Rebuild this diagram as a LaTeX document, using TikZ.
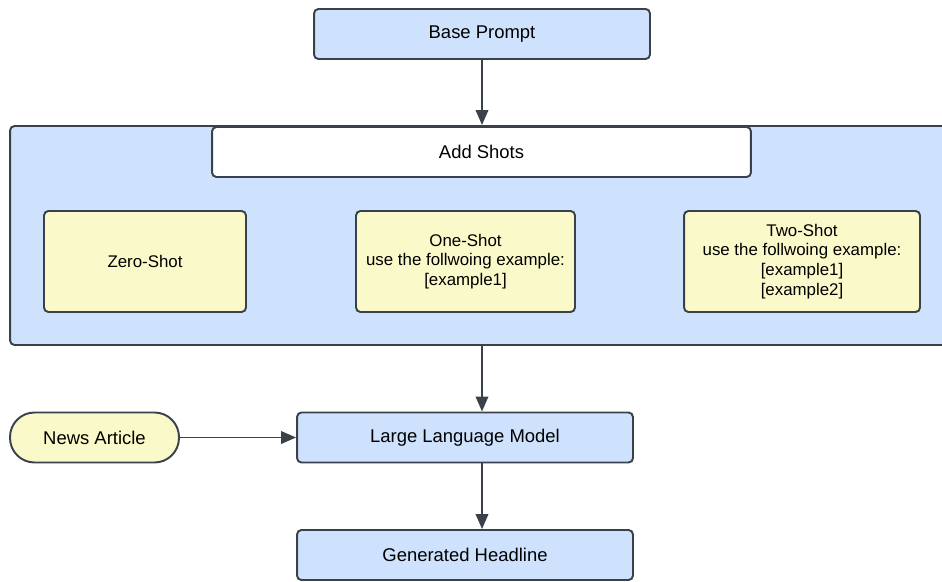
\documentclass[tikz,border=0pt]{standalone}
\usepackage{fontspec}
\setmainfont{Liberation Sans}
\usetikzlibrary{arrows.meta}

\definecolor{lineGray}{HTML}{3A414A}
\definecolor{boxBlue}{HTML}{CFE2FD}
\definecolor{boxYellow}{HTML}{FAF9C9}

\tikzset{
  block/.style={draw=lineGray, line width=1.1pt, fill=boxBlue, rounded corners=2.5pt,
    minimum width=6.72cm, minimum height=1cm, font=\fontsize{10.5}{12.6}\selectfont},
  shot/.style={draw=lineGray, line width=1.1pt, fill=boxYellow, rounded corners=2.5pt,
    minimum height=2.02cm, align=center, font=\fontsize{9.6}{11.3}\selectfont},
  flow/.style={draw=lineGray, line width=1.1pt, -{Triangle[length=0.3cm,width=0.25cm]}},
}

\begin{document}
\begin{tikzpicture}[x=0.02cm,y=-0.02cm]
  \useasboundingbox (0,0) rectangle (942,581);
  \clip (0,0) rectangle (942,581);
  % Top part of the Figure
  \node[block]  (base)  at (482,34)   {Base Prompt};
  % Container with the shot variants
  \node[block, minimum width=19cm, minimum height=4.38cm] (shots) at (485,235.5) {};
  \node[block, fill=white, minimum width=10.78cm] (add)  at (481.5,152) {Add Shots};
  \node[shot, minimum width=4.04cm] (zero) at (145,261.5)  {Zero-Shot};
  \node[shot, minimum width=4.38cm] (one)  at (465.5,261.5) {One-Shot\\use the follwoing example:\\{}[example1]};
  \node[shot, minimum width=4.72cm] (two)  at (802,261.5)  {Two-Shot\\use the follwoing example:\\{}[example1]\\{}[example2]};
  % Bottom part of the Figure
  \node[block]  (llm)   at (465,437.5) {Large Language Model};
  \node[block, fill=boxYellow, minimum width=3.38cm, rounded corners=0.49cm] (news) at (94.5,437.5) {News Article};
  \node[block]  (gen)   at (465,555)   {Generated Headline};
  \draw[flow] (base) -- (base |- shots.north);
  \draw[flow] (shots.south -| base) -- (base |- llm.north);
  \draw[flow] (news) -- (llm);
  \draw[flow] (llm.south -| base) -- (base |- gen.north);
\end{tikzpicture}
\end{document}
